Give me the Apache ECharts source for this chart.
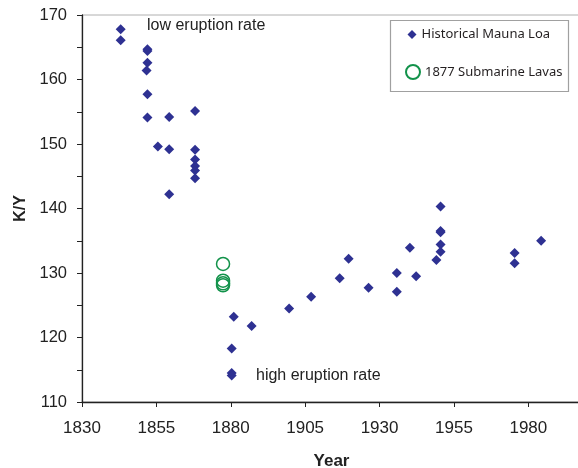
<!DOCTYPE html>
<html><head><meta charset="utf-8">
<script src="https://cdn.jsdelivr.net/npm/echarts@6/dist/echarts.min.js"></script>
<style>html,body{margin:0;padding:0;background:#fff}#c{width:578px;height:468px}</style>
</head><body><div id="c"></div>
<script>
const historicalYears = [1843,1843,1852,1852,1852,1851.7,1852,1852,1855.5,1859.3,1859.3,1859.3,1868,1868,1868,1868,1868,1868,1880.3,1880.3,1880.3,1881,1887,1899.6,1907,1916.6,1919.6,1926.3,1935.8,1935.8,1940.2,1942.3,1949.1,1950.5,1950.5,1950.5,1950.5,1950.5,1975.4,1975.4,1984.3];
const historicalKY   = [167.8,166.1,164.7,164.4,162.6,161.4,157.7,154.1,149.6,154.2,149.2,142.2,155.1,149.1,147.6,146.6,145.9,144.7,118.3,114.5,114.1,123.2,121.8,124.5,126.3,129.2,132.2,127.7,130.0,127.1,133.9,129.5,132.0,140.3,136.5,136.3,134.4,133.3,133.1,131.5,135.0];
const submarineYears = [1877.4,1877.4,1877.4,1877.4];
const submarineKY    = [131.4,128.8,128.4,128.1];
const xTicks = [1830,1855,1880,1905,1930,1955,1980];
const yTicks = [110,120,130,140,150,160,170];
const seriesNames = ['Historical Mauna Loa','1877 Submarine Lavas'];

const hist = historicalYears.map((x,i)=>[x,historicalKY[i]]);
const sub = submarineYears.map((x,i)=>[x,submarineKY[i]]);
const blue = '#2e3192', green = '#12924a';
const font = '"Liberation Sans", Arial, sans-serif';

const chart = echarts.init(document.getElementById('c'), null, {renderer:'canvas'});
chart.setOption({
  animation:false,
  backgroundColor:'#fff',
  grid:{left:82, top:15, right:-3, bottom:66, outerBoundsMode:'none', containLabel:false,
        show:true, borderColor:'#b0b0b0', borderWidth:1},
  xAxis:{type:'value', min:1830, max:1997.7, interval:25,
    name:'Year', nameLocation:'middle', nameGap:51,
    nameTextStyle:{fontFamily:font, fontSize:17, fontWeight:'bold', color:'#222'},
    axisLine:{show:true, onZero:false, lineStyle:{color:'#222', width:1.3}},
    axisTick:{show:true, length:5, lineStyle:{color:'#222'}},
    axisLabel:{fontFamily:font, fontSize:17, color:'#222', margin:18, showMaxLabel:false,
      formatter:v=>xTicks.includes(v)?String(v):''},
    splitLine:{show:false}},
  yAxis:{type:'value', min:110, max:170, interval:5,
    name:'K/Y', nameLocation:'middle', nameGap:50, nameRotate:90,
    nameTextStyle:{fontFamily:font, fontSize:16, fontWeight:'bold', color:'#222'},
    axisLine:{show:true, onZero:false, lineStyle:{color:'#222', width:1.3}},
    axisTick:{show:true, length:5, lineStyle:{color:'#222'}},
    axisLabel:{fontFamily:font, fontSize:16.5, color:'#222', margin:15,
      formatter:v=>yTicks.includes(v)?String(v):''},
    splitLine:{show:false}},
  legend:[
    {data:[{name:seriesNames[0], icon:'diamond'}], left:407.5, top:28, padding:0, itemWidth:9, itemHeight:9,
     textStyle:{fontFamily:'"Noto Sans", sans-serif', fontSize:13, color:'#231f20'}, selectedMode:false},
    {data:[{name:seriesNames[1], icon:'circle'}], left:405, top:64, padding:0, itemWidth:14, itemHeight:14,
     textStyle:{fontFamily:'"Noto Sans", sans-serif', fontSize:13, color:'#231f20'}, selectedMode:false}
  ],
  graphic:[
    {type:'rect', shape:{x:390.5, y:20.5, width:178, height:71}, style:{fill:'none', stroke:'#a0a0a0', lineWidth:1.2}, z:-1},
    {type:'text', x:147, y:26, style:{text:'low eruption rate', fontFamily:font, fontSize:16, fill:'#222', verticalAlign:'middle'}},
    {type:'text', x:256, y:376, style:{text:'high eruption rate', fontFamily:font, fontSize:16, fill:'#222', verticalAlign:'middle'}}
  ],
  series:[
    {name:seriesNames[0], type:'scatter', symbol:'diamond', symbolSize:10, data:hist,
     itemStyle:{color:blue, opacity:1}},
    {name:seriesNames[1], type:'scatter', symbol:'circle', symbolSize:13, data:sub, z:3,
     itemStyle:{color:'rgba(255,255,255,0)', borderColor:green, borderWidth:1.5, opacity:1}}
  ]
});
</script></body></html>
